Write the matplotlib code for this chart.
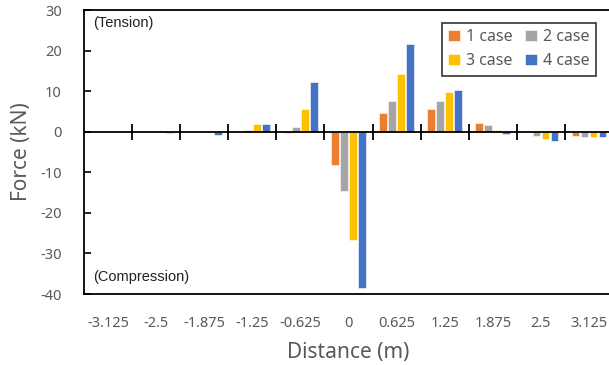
import numpy as np
import matplotlib
matplotlib.use('Agg')
import matplotlib.pyplot as plt

# distance categories and forces (kN) per load case
distance = ['-3.125', '-2.5', '-1.875', '-1.25', '-0.625', '0',
            '0.625', '1.25', '1.875', '2.5', '3.125']
case1 = [0.0, 0.0, 0.0, 0.1, -0.3, -8.3, 4.6, 5.7, 2.2, 0.0, -1.0]
case2 = [0.0, 0.0, 0.0, 0.5, 1.1, -14.5, 7.6, 7.6, 1.7, -1.1, -1.4]
case3 = [0.0, 0.0, 0.0, 1.8, 5.7, -26.6, 14.3, 9.9, 0.5, -1.8, -1.4]
case4 = [0.0, -0.4, -0.7, 1.8, 12.2, -38.6, 21.7, 10.4, -0.6, -2.3, -1.2]
series = [case1, case2, case3, case4]
labels = ['1 case', '2 case', '3 case', '4 case']
colors = ['#ED7D31', '#A5A5A5', '#FFC000', '#4472C4']

GRAY = '#595959'
plt.rcParams['font.family'] = ['Noto Sans', 'DejaVu Sans']
plt.rcParams['axes.unicode_minus'] = False

fig = plt.figure(figsize=(6.09, 3.65), dpi=100)
ax = fig.add_axes([84 / 609, 71 / 365, 529 / 609, 284 / 365])

x = np.arange(len(distance))
step = 0.1875
width = 0.16
bars = []
for k, (vals, lab, col) in enumerate(zip(series, labels, colors)):
    b = ax.bar(x + (k - 1.5) * step, vals, width, color=col, label=lab,
               edgecolor='white', linewidth=0.4, zorder=2)
    bars.append(b)

# zero line with category boundary ticks
ax.axhline(0, color='black', lw=1.3, zorder=3)
bounds = x[:-1] + 0.5
ax.plot(bounds, np.zeros_like(bounds), ls='none', marker='|', ms=11,
        mew=1.3, color='black', zorder=3)

ax.set_xlim(-0.5, len(distance) - 0.5)
ax.set_ylim(-40, 30)
ax.set_yticks(np.arange(-40, 31, 10))
ax.set_xticks(x)
ax.set_xticklabels(distance)
ax.tick_params(axis='x', length=0, pad=16, labelsize=10.5, labelcolor=GRAY)
ax.tick_params(axis='y', direction='in', length=5, width=1.2, pad=16,
               labelsize=10.5, labelcolor=GRAY)
for s in ax.spines.values():
    s.set_color('black')
    s.set_linewidth(1.3)

ax.set_ylabel('Force (kN)', fontsize=15, color=GRAY, labelpad=6)
ax.set_xlabel('Distance (m)', fontsize=15, color=GRAY, labelpad=8)

ax.text(0.018, 0.955, '(Tension)', transform=ax.transAxes, fontsize=10.5,
        family='Liberation Sans', color='#222222', va='center')
ax.text(0.018, 0.06, '(Compression)', transform=ax.transAxes, fontsize=10.5,
        family='Liberation Sans', color='#222222', va='center')

# matplotlib fills legend columns first; reorder to read row-wise
order = [0, 2, 1, 3]
leg = fig.legend([bars[i] for i in order], [labels[i] for i in order],
                 ncol=2, loc='upper right',
                 bbox_to_anchor=(604 / 609, 1 - 15 / 365),
                 fontsize=11.5, frameon=True, fancybox=False,
                 handlelength=0.7, handleheight=0.7, handletextpad=0.4,
                 columnspacing=0.8, borderpad=0.4, labelspacing=0.5)
leg.get_frame().set_edgecolor('black')
leg.get_frame().set_linewidth(1.2)
for t in leg.get_texts():
    t.set_color(GRAY)

fig.savefig('out.png', dpi=100)
